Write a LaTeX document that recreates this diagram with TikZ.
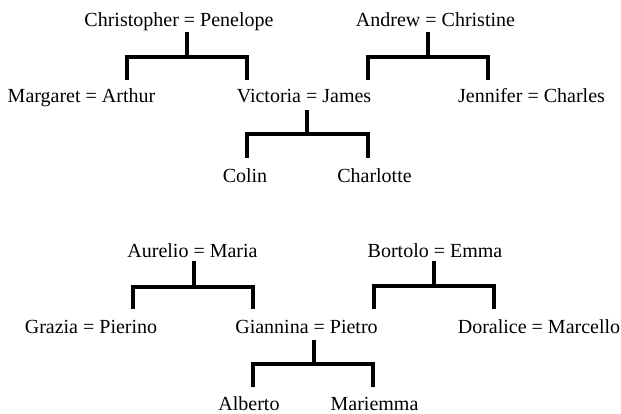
\documentclass[tikz,border=0pt]{standalone}
\usepackage{fontspec}
\setmainfont{Liberation Serif}
\begin{document}
\begin{tikzpicture}[x=1pt,y=-1pt,
  person/.style={inner sep=0pt, anchor=base, font=\fontsize{20}{24}\selectfont},
  bar/.style={line width=4.8pt, line join=miter, line cap=butt}]
\useasboundingbox (0,0) rectangle (621,414);
% ---- first family ----
\node[person] (cp) at (179,27) {Christopher = Penelope};
\node[person] (ac) at (435.5,27) {Andrew = Christine};
\node[person] (ma) at (81.5,103) {Margaret = Arthur};
\node[person] (vj) at (304,103) {Victoria = James};
\node[person] (jc) at (531.5,103) {Jennifer = Charles};
\node[person] (colin) at (245,183) {Colin};
\node[person] (charlotte) at (374.5,183) {Charlotte};
% ---- second family ----
\node[person] (am) at (192.5,257) {Aurelio = Maria};
\node[person] (be) at (435,257) {Bortolo = Emma};
\node[person] (gp) at (91,333) {Grazia = Pierino};
\node[person] (gip) at (306.5,333) {Giannina = Pietro};
\node[person] (dm) at (539,333) {Doralice = Marcello};
\node[person] (alberto) at (249,410) {Alberto};
\node[person] (mariemma) at (374.5,410) {Mariemma};
% ---- connector points ----
\coordinate (cpD) at (187,32);  \coordinate (cpJ) at (187,57);
\coordinate (maT) at (127,80);  \coordinate (vjT) at (247,80);
\coordinate (acD) at (428,32);  \coordinate (acJ) at (428,57);
\coordinate (vjT2) at (368,80); \coordinate (jcT) at (488,80);
\coordinate (vjD) at (307,110); \coordinate (vjJ) at (307,134);
\coordinate (colinT) at (247,158); \coordinate (charlotteT) at (368,158);
\coordinate (amD) at (194,261); \coordinate (amJ) at (194,287);
\coordinate (gpT) at (133,309); \coordinate (gipT) at (253,309);
\coordinate (beD) at (434,261); \coordinate (beJ) at (434,286);
\coordinate (gipT2) at (374,309); \coordinate (dmT) at (494,309);
\coordinate (gipD) at (314,340); \coordinate (gipJ) at (314,364);
\coordinate (albertoT) at (253,387); \coordinate (mariemmaT) at (373,387);
% ---- connectors ----
\draw[bar] (cpD) -- (cpJ);
\draw[bar] (maT) -- (maT |- cpJ) -- (vjT |- cpJ) -- (vjT);
\draw[bar] (acD) -- (acJ);
\draw[bar] (vjT2) -- (vjT2 |- acJ) -- (jcT |- acJ) -- (jcT);
\draw[bar] (vjD) -- (vjJ);
\draw[bar] (colinT) -- (colinT |- vjJ) -- (charlotteT |- vjJ) -- (charlotteT);
\draw[bar] (amD) -- (amJ);
\draw[bar] (gpT) -- (gpT |- amJ) -- (gipT |- amJ) -- (gipT);
\draw[bar] (beD) -- (beJ);
\draw[bar] (gipT2) -- (gipT2 |- beJ) -- (dmT |- beJ) -- (dmT);
\draw[bar] (gipD) -- (gipJ);
\draw[bar] (albertoT) -- (albertoT |- gipJ) -- (mariemmaT |- gipJ) -- (mariemmaT);
\end{tikzpicture}
\end{document}
